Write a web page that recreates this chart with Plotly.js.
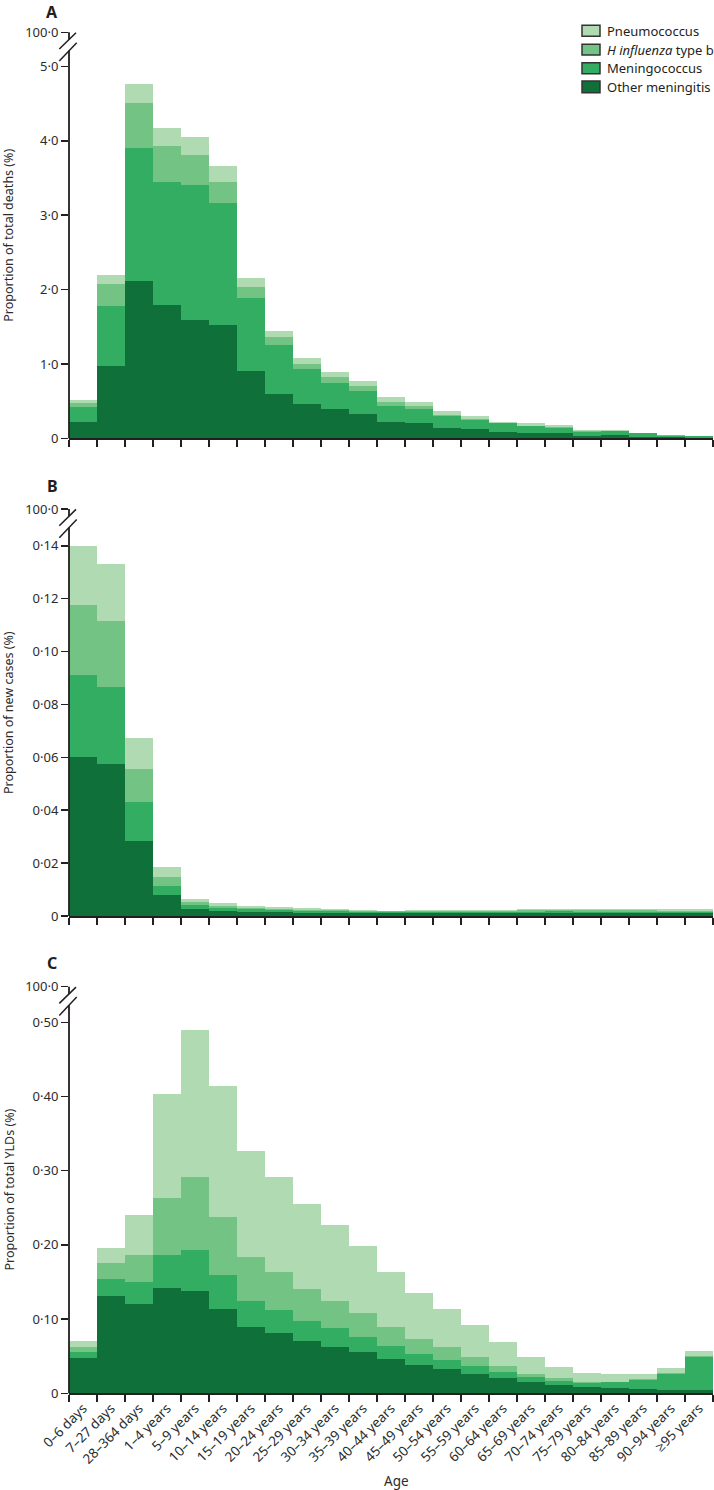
<!DOCTYPE html>
<html><head><meta charset="utf-8">
<script src="https://cdn.plot.ly/plotly-3.0.1.min.js"></script>
<style>html,body{margin:0;padding:0;background:#fff}#chart{width:714px;height:1490px}</style>
</head><body><div id="chart"></div>
<script>
// ---------- DATA ----------
const categories = ["0–6 days","7–27 days","28–364 days","1–4 years","5–9 years","10–14 years","15–19 years","20–24 years","25–29 years","30–34 years","35–39 years","40–44 years","45–49 years","50–54 years","55–59 years","60–64 years","65–69 years","70–74 years","75–79 years","80–84 years","85–89 years","90–94 years","≥95 years"];

const seriesNames = ["Other meningitis","Meningococcus","H influenza type b","Pneumococcus"];
const legendLabels = ["Pneumococcus","<i>H influenza</i> type b","Meningococcus","Other meningitis"];

// Panel A – proportion of total deaths (%)
const deathsOther  = [0.22,0.97,2.11,1.79,1.59,1.52,0.91,0.60,0.455,0.39,0.33,0.22,0.20,0.145,0.12,0.08,0.077,0.07,0.036,0.04,0.02,0.013,0.01];
const deathsMening = [0.20,0.81,1.79,1.66,1.82,1.64,0.98,0.66,0.475,0.36,0.30,0.22,0.19,0.155,0.12,0.12,0.083,0.075,0.054,0.055,0.048,0.023,0.017];
const deathsHib    = [0.06,0.29,0.61,0.48,0.40,0.29,0.15,0.10,0.07,0.07,0.07,0.05,0.04,0.02,0.02,0.01,0.01,0.01,0.01,0.005,0.004,0.004,0.003];
const deathsPneumo = [0.04,0.12,0.25,0.24,0.24,0.21,0.12,0.08,0.08,0.07,0.07,0.06,0.06,0.05,0.04,0.015,0.03,0.025,0.01,0.01,0.005,0.005,0.006];

// Panel B – proportion of new cases (%)
const casesOther  = [0.0602,0.0573,0.0285,0.0078,0.0026,0.0020,0.0016,0.0014,0.0013,0.0012,0.0011,0.0010,0.0010,0.0010,0.0011,0.0011,0.0011,0.0012,0.0011,0.0011,0.0011,0.0010,0.0010];
const casesMening = [0.0310,0.0294,0.0146,0.0037,0.0016,0.0011,0.0010,0.0008,0.0007,0.0006,0.0006,0.0005,0.0005,0.0006,0.0006,0.0006,0.0006,0.0006,0.0006,0.0006,0.0006,0.0006,0.0006];
const casesHib    = [0.0263,0.0250,0.0126,0.0034,0.0010,0.0008,0.0005,0.0005,0.0004,0.0004,0.0003,0.0003,0.0003,0.0003,0.0003,0.0003,0.0004,0.0004,0.0004,0.0004,0.0004,0.0004,0.0004];
const casesPneumo = [0.0225,0.0213,0.0115,0.0037,0.0012,0.0010,0.0008,0.0006,0.0005,0.0004,0.0004,0.0002,0.0003,0.0004,0.0004,0.0004,0.0005,0.0005,0.0005,0.0006,0.0006,0.0006,0.0005];

// Panel C – proportion of total YLDs (%)
const yldsOther  = [0.0482,0.1315,0.121,0.1414,0.138,0.1135,0.0896,0.081,0.0707,0.0626,0.055,0.046,0.0387,0.0329,0.0266,0.0207,0.0153,0.0117,0.009,0.0072,0.0063,0.005,0.004];
const yldsMening = [0.0077,0.0225,0.029,0.0456,0.0557,0.046,0.0354,0.0316,0.0273,0.0248,0.021,0.018,0.0149,0.0126,0.0104,0.0081,0.0063,0.0054,0.0054,0.0077,0.0122,0.0216,0.0455];
const yldsHib    = [0.0067,0.021,0.036,0.0765,0.0973,0.0785,0.059,0.0504,0.043,0.0376,0.0326,0.0247,0.0198,0.0165,0.0125,0.0086,0.005,0.0032,0.0014,0.0009,0.0007,0.0004,0.0005];
const yldsPneumo = [0.0077,0.021,0.054,0.1395,0.1986,0.176,0.142,0.129,0.1135,0.102,0.0904,0.0743,0.0613,0.0515,0.0424,0.0311,0.022,0.0153,0.0121,0.0099,0.0074,0.0072,0.0068];

const panelLabels = ["A","B","C"];
const yTitles = ["Proportion of total deaths (%)","Proportion of new cases (%)","Proportion of total YLDs (%)"];
const yTickVals = [[0,1,2,3,4,5],[0,0.02,0.04,0.06,0.08,0.10,0.12,0.14],[0,0.10,0.20,0.30,0.40,0.50]];
const yTickText = [["0","1·0","2·0","3·0","4·0","5·0"],["0","0·02","0·04","0·06","0·08","0·10","0·12","0·14"],["0","0·10","0·20","0·30","0·40","0·50"]];
const breakTickText = "100·0";
const xTitle = "Age";

// ---------- STYLE / LAYOUT ----------
const colors = ["#10703a","#33ad61","#72c384","#b0dab2"]; // other, mening, hib, pneumo
const W = 714, H = 1490;
const FONT = "Noto Sans, Open Sans, sans-serif";
const INK = "#231f20", TXT = "#2b2b2b";
const px = x => x / W, py = y => 1 - y / H;
const plotLeft = 69, plotRight = 713;
const panelTop = [32.3, 509, 986.7];
const panelBottom = [438.3, 916, 1393.3];
const rangeTop = [5.46, 0.1539, 0.548];
const letterTop = [0, 474, 951];

const panelData = [
  [deathsOther, deathsMening, deathsHib, deathsPneumo],
  [casesOther, casesMening, casesHib, casesPneumo],
  [yldsOther, yldsMening, yldsHib, yldsPneumo]
];

const traces = [];
panelData.forEach((series, i) => {
  const sfx = i === 0 ? "" : String(i + 1);
  series.forEach((vals, s) => {
    traces.push({
      type: "bar", x: categories, y: vals, name: seriesNames[s],
      xaxis: "x" + sfx, yaxis: "y" + sfx,
      marker: {color: colors[s], line: {width: 0}},
      showlegend: false, hoverinfo: "skip"
    });
  });
});

const layout = {
  width: W, height: H,
  margin: {l: 0, r: 0, t: 0, b: 0},
  paper_bgcolor: "#fff", plot_bgcolor: "rgba(0,0,0,0)",
  barmode: "stack", bargap: 0,
  showlegend: false,
  font: {family: FONT, color: TXT, size: 13},
  shapes: [], annotations: []
};

for (let i = 0; i < 3; i++) {
  const sfx = i === 0 ? "" : String(i + 1);
  const T = panelTop[i], B = panelBottom[i];
  layout["xaxis" + sfx] = {
    type: "category", domain: [px(plotLeft), px(plotRight)], anchor: "y" + sfx,
    range: [-0.5, categories.length - 0.5],
    showline: true, linecolor: INK, linewidth: 2,
    ticks: "outside", tickson: "boundaries", ticklen: 7, tickwidth: 1.5, tickcolor: INK,
    showticklabels: i === 2, tickangle: -45,
    tickfont: {family: FONT, size: 13.5, color: TXT},
    showgrid: false, zeroline: false, fixedrange: true, automargin: false
  };
  layout["yaxis" + sfx] = {
    domain: [py(B), py(T)], anchor: "x" + sfx,
    range: [0, rangeTop[i]],
    tickmode: "array",
    tickvals: yTickVals[i].concat([rangeTop[i]]),
    ticktext: yTickText[i].concat([breakTickText]),
    ticks: "outside", ticklen: 7, tickwidth: 1.5, tickcolor: INK,
    tickfont: {family: FONT, size: 13, color: TXT},
    showline: false, showgrid: false, zeroline: false, fixedrange: true, automargin: false
  };
  const ln = (x0, y0, x1, y1, w) => ({type: "line", xref: "paper", yref: "paper",
    x0: px(x0), y0: py(y0), x1: px(x1), y1: py(y1), line: {color: INK, width: w}});
  // broken y axis line
  layout.shapes.push(ln(plotLeft, T, plotLeft, T + 7.2, 1.8));
  layout.shapes.push(ln(plotLeft, T + 18.5, plotLeft, B, 1.8));
  layout.shapes.push(ln(59.3, T + 16.7, 76, T + 0.4, 1.5));
  layout.shapes.push(ln(59.3, T + 28.7, 76.7, T + 10.4, 1.5));
  // panel letter
  layout.annotations.push({xref: "paper", yref: "paper", x: px(52), y: py(letterTop[i]), text: "<b>" + panelLabels[i] + "</b>",
    showarrow: false, xanchor: "center", yanchor: "top", borderpad: 0, font: {family: FONT, size: 16, color: INK}});
  // y title
  layout.annotations.push({xref: "paper", yref: "paper", x: px(8.5), y: py((T + B) / 2), text: yTitles[i],
    textangle: -90, showarrow: false, xanchor: "center", yanchor: "middle", font: {family: FONT, size: 12.5, color: TXT}});
}

// x title
layout.annotations.push({xref: "paper", yref: "paper", x: px(396), y: py(1481), text: xTitle,
  showarrow: false, xanchor: "center", yanchor: "middle", font: {family: FONT, size: 13.5, color: TXT}});

// manual legend
const legRows = [[25.3, 36.3], [44.3, 55], [62.7, 73.7], [81, 92.7]];
const legColors = [colors[3], colors[2], colors[1], colors[0]];
legRows.forEach((r, k) => {
  layout.shapes.push({type: "rect", xref: "paper", yref: "paper", x0: px(582), x1: px(600), y0: py(r[1]), y1: py(r[0]),
    fillcolor: legColors[k], line: {color: "#333", width: 1.5}});
  layout.annotations.push({xref: "paper", yref: "paper", x: px(605), y: py((r[0] + r[1]) / 2), text: legendLabels[k],
    showarrow: false, xanchor: "left", yanchor: "middle", font: {family: FONT, size: 13, color: INK}});
});

Plotly.newPlot("chart", traces, layout, {staticPlot: true, displayModeBar: false});
</script>
</body></html>
